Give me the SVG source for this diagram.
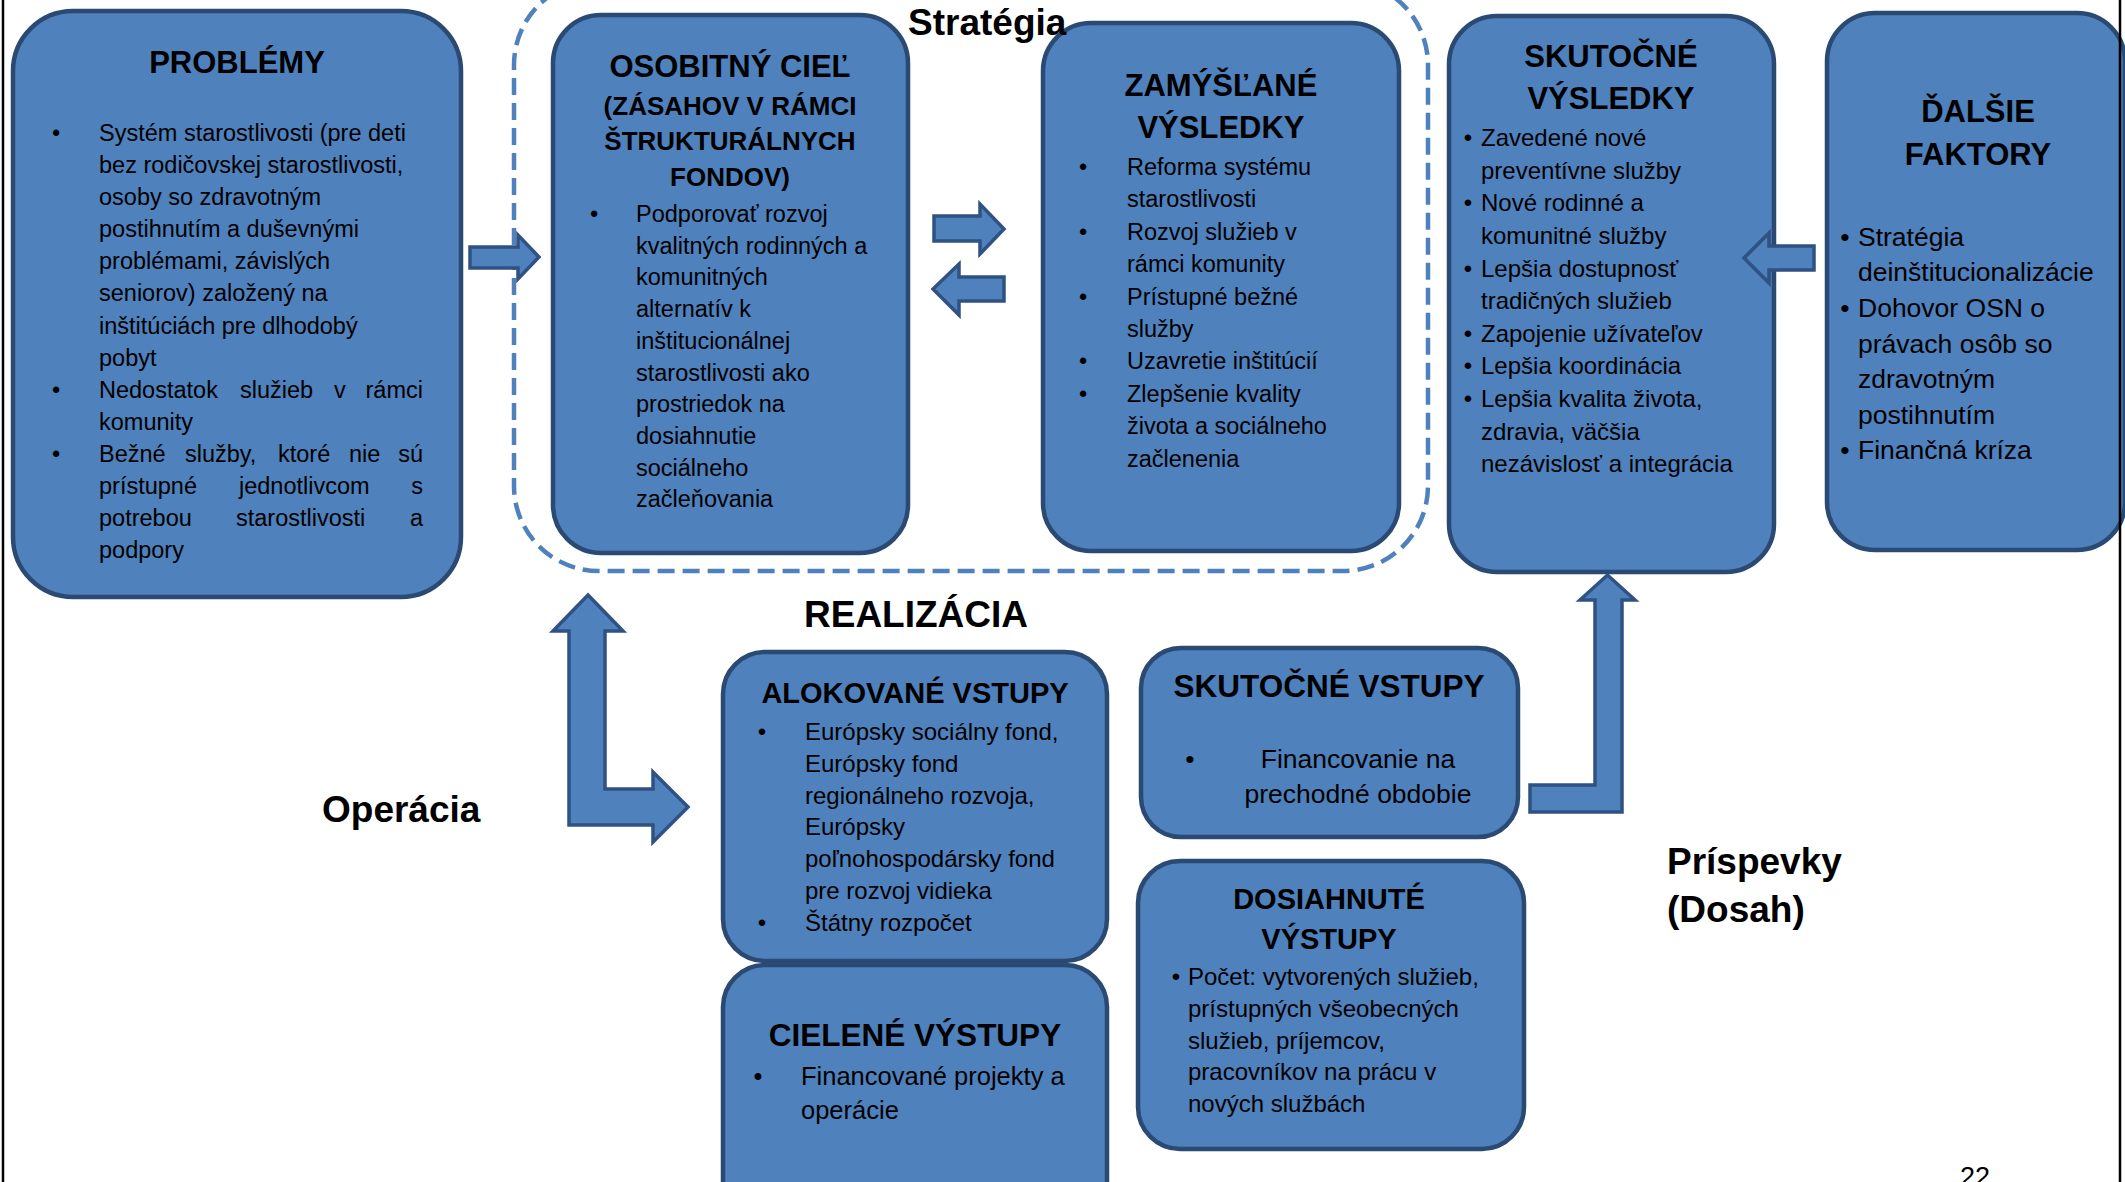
<svg xmlns="http://www.w3.org/2000/svg" width="2125" height="1182" viewBox="0 0 2125 1182">
<style>
.box{fill:#4F81BD;stroke:#2A4A73;stroke-width:4.5}
.arr{fill:#4F81BD;stroke:#2F5283;stroke-width:3.5;stroke-linejoin:miter}
.dash{fill:none;stroke:#4F81BD;stroke-width:4.5;stroke-dasharray:17 8}
text{font-family:"Liberation Sans",Arial,sans-serif;fill:#000}
.h{font-weight:bold;text-anchor:middle}
.lbl{font-weight:bold;font-size:37px}
.b{text-anchor:middle}
.page{stroke:#000;stroke-width:2.5}
</style>
<rect width="2125" height="1182" fill="#fff"/>
<line class="page" x1="3" y1="0" x2="3" y2="1182"/>
<rect id="strategia-frame" class="dash" x="514" y="-20" width="914" height="591" rx="85"/>

<g id="problemy">
<rect class="box" x="13" y="11" width="448" height="586" rx="60"/>
<text class="h" x="237" y="73" font-size="31">PROBLÉMY</text>
<g font-size="23.5">
<text class="b" x="56" y="141">•</text>
<text x="99" y="141">Systém starostlivosti (pre deti</text>
<text x="99" y="173">bez rodičovskej starostlivosti,</text>
<text x="99" y="205">osoby so zdravotným</text>
<text x="99" y="237">postihnutím a duševnými</text>
<text x="99" y="269">problémami, závislých</text>
<text x="99" y="301">seniorov) založený na</text>
<text x="99" y="334">inštitúciách pre dlhodobý</text>
<text x="99" y="366">pobyt</text>
<text class="b" x="56" y="398">•</text>
<text y="398"><tspan x="99">Nedostatok</tspan> <tspan x="240">služieb</tspan> <tspan x="334">v</tspan> <tspan x="423" text-anchor="end">rámci</tspan></text>
<text x="99" y="430">komunity</text>
<text class="b" x="56" y="462">•</text>
<text y="462"><tspan x="99">Bežné</tspan> <tspan x="185">služby,</tspan> <tspan x="278">ktoré</tspan> <tspan x="349">nie</tspan> <tspan x="423" text-anchor="end">sú</tspan></text>
<text y="494"><tspan x="99">prístupné</tspan> <tspan x="239">jednotlivcom</tspan> <tspan x="423" text-anchor="end">s</tspan></text>
<text y="526"><tspan x="99">potrebou</tspan> <tspan x="236">starostlivosti</tspan> <tspan x="423" text-anchor="end">a</tspan></text>
<text x="99" y="558">podpory</text>
</g>
</g>

<g id="osobitny-ciel">
<rect class="box" x="553" y="15" width="355" height="538" rx="48"/>
<text class="h" x="730" y="77" font-size="31">OSOBITNÝ CIEĽ</text>
<text class="h" x="730" y="115" font-size="26">(ZÁSAHOV V RÁMCI</text>
<text class="h" x="730" y="150" font-size="26">ŠTRUKTURÁLNYCH</text>
<text class="h" x="730" y="186" font-size="26">FONDOV)</text>
<g font-size="23.5">
<text class="b" x="594" y="222">•</text>
<text x="636" y="222">Podporovať rozvoj</text>
<text x="636" y="254">kvalitných rodinných a</text>
<text x="636" y="285">komunitných</text>
<text x="636" y="317">alternatív k</text>
<text x="636" y="349">inštitucionálnej</text>
<text x="636" y="381">starostlivosti ako</text>
<text x="636" y="412">prostriedok na</text>
<text x="636" y="444">dosiahnutie</text>
<text x="636" y="476">sociálneho</text>
<text x="636" y="507">začleňovania</text>
</g>
</g>

<g id="zamyslane-vysledky">
<rect class="box" x="1043" y="23" width="356" height="528" rx="48"/>
<text class="h" x="1221" y="96" font-size="31">ZAMÝŠĽANÉ</text>
<text class="h" x="1221" y="138" font-size="31">VÝSLEDKY</text>
<g font-size="23.5">
<text class="b" x="1083" y="175">•</text>
<text x="1127" y="175">Reforma systému</text>
<text x="1127" y="207">starostlivosti</text>
<text class="b" x="1083" y="240">•</text>
<text x="1127" y="240">Rozvoj služieb v</text>
<text x="1127" y="272">rámci komunity</text>
<text class="b" x="1083" y="305">•</text>
<text x="1127" y="305">Prístupné bežné</text>
<text x="1127" y="337">služby</text>
<text class="b" x="1083" y="369">•</text>
<text x="1127" y="369">Uzavretie inštitúcií</text>
<text class="b" x="1083" y="402">•</text>
<text x="1127" y="402">Zlepšenie kvality</text>
<text x="1127" y="434">života a sociálneho</text>
<text x="1127" y="467">začlenenia</text>
</g>
</g>

<g id="skutocne-vysledky">
<rect class="box" x="1449" y="16" width="325" height="556" rx="48"/>
<text class="h" x="1611" y="67" font-size="31">SKUTOČNÉ</text>
<text class="h" x="1611" y="109" font-size="31">VÝSLEDKY</text>
<g font-size="24">
<text class="b" x="1468" y="146">•</text>
<text x="1481" y="146">Zavedené nové</text>
<text x="1481" y="179">preventívne služby</text>
<text class="b" x="1468" y="211">•</text>
<text x="1481" y="211">Nové rodinné a</text>
<text x="1481" y="244">komunitné služby</text>
<text class="b" x="1468" y="277">•</text>
<text x="1481" y="277">Lepšia dostupnosť</text>
<text x="1481" y="309">tradičných služieb</text>
<text class="b" x="1468" y="342">•</text>
<text x="1481" y="342">Zapojenie užívateľov</text>
<text class="b" x="1468" y="374">•</text>
<text x="1481" y="374">Lepšia koordinácia</text>
<text class="b" x="1468" y="407">•</text>
<text x="1481" y="407">Lepšia kvalita života,</text>
<text x="1481" y="440">zdravia, väčšia</text>
<text x="1481" y="472">nezávislosť a integrácia</text>
</g>
</g>

<g id="dalsie-faktory">
<rect class="box" x="1827" y="13" width="298" height="537" rx="48"/>
<text class="h" x="1978" y="122" font-size="31">ĎALŠIE</text>
<text class="h" x="1978" y="165" font-size="31">FAKTORY</text>
<g font-size="26.5">
<text class="b" x="1845" y="246">•</text>
<text x="1858" y="246">Stratégia</text>
<text x="1858" y="281">deinštitucionalizácie</text>
<text class="b" x="1845" y="317">•</text>
<text x="1858" y="317">Dohovor OSN o</text>
<text x="1858" y="353">právach osôb so</text>
<text x="1858" y="388">zdravotným</text>
<text x="1858" y="424">postihnutím</text>
<text class="b" x="1845" y="459">•</text>
<text x="1858" y="459">Finančná kríza</text>
</g>
</g>

<g id="alokovane-vstupy">
<rect class="box" x="723" y="652" width="384" height="309" rx="42"/>
<text class="h" x="915" y="703" font-size="29">ALOKOVANÉ VSTUPY</text>
<g font-size="24">
<text class="b" x="762" y="740">•</text>
<text x="805" y="740">Európsky sociálny fond,</text>
<text x="805" y="772">Európsky fond</text>
<text x="805" y="804">regionálneho rozvoja,</text>
<text x="805" y="835">Európsky</text>
<text x="805" y="867">poľnohospodársky fond</text>
<text x="805" y="899">pre rozvoj vidieka</text>
<text class="b" x="762" y="931">•</text>
<text x="805" y="931">Štátny rozpočet</text>
</g>
</g>

<g id="cielene-vystupy">
<rect class="box" x="723" y="965" width="384" height="260" rx="42"/>
<text class="h" x="915" y="1046" font-size="31.5">CIELENÉ VÝSTUPY</text>
<g font-size="25.5">
<text class="b" x="758" y="1085">•</text>
<text x="801" y="1085">Financované projekty a</text>
<text x="801" y="1119">operácie</text>
</g>
</g>

<g id="skutocne-vstupy">
<rect class="box" x="1141" y="648" width="377" height="189" rx="40"/>
<text class="h" x="1329" y="697" font-size="31.5">SKUTOČNÉ VSTUPY</text>
<g font-size="26.5">
<text class="b" x="1190" y="768">•</text>
<text class="b" x="1358" y="768">Financovanie na</text>
<text class="b" x="1358" y="803">prechodné obdobie</text>
</g>
</g>

<g id="dosiahnute-vystupy">
<rect class="box" x="1138" y="861" width="386" height="288" rx="42"/>
<text class="h" x="1329" y="909" font-size="29">DOSIAHNUTÉ</text>
<text class="h" x="1329" y="949" font-size="29">VÝSTUPY</text>
<g font-size="24">
<text class="b" x="1176" y="985">•</text>
<text x="1188" y="985">Počet: vytvorených služieb,</text>
<text x="1188" y="1017">prístupných všeobecných</text>
<text x="1188" y="1049">služieb, príjemcov,</text>
<text x="1188" y="1080">pracovníkov na prácu v</text>
<text x="1188" y="1112">nových službách</text>
</g>
</g>

<g id="connectors">
<path class="arr" d="M470,247 H518 V235 L539,257 L518,279 V268 H470 Z"/>
<path class="arr" d="M934,216 H980 V204 L1004,229 L980,254 V241 H934 Z"/>
<path class="arr" d="M1004,277 H959 V264 L933,289 L959,315 V301 H1004 Z"/>
<path class="arr" d="M1814,246 H1769 V233 L1744,258 L1769,283 V270 H1814 Z"/>
<path class="arr" d="M588,595 L623,631 H605 V789 H653 V772 L688,807 L653,842 V825 H569 V631 H553 Z"/>
<path class="arr" d="M1530,785 H1595 V600 H1580 L1607.5,575 L1635,600 H1622 V812 H1530 Z"/>
</g>

<g id="labels">
<text class="lbl" x="908" y="35">Stratégia</text>
<text class="lbl" x="804" y="627">REALIZÁCIA</text>
<text class="lbl" x="322" y="822">Operácia</text>
<text class="lbl" x="1667" y="874">Príspevky</text>
<text class="lbl" x="1667" y="922">(Dosah)</text>
<text x="1960" y="1186" font-size="27">22</text>
</g>
<line class="page" x1="2120" y1="0" x2="2120" y2="1182"/>
</svg>
